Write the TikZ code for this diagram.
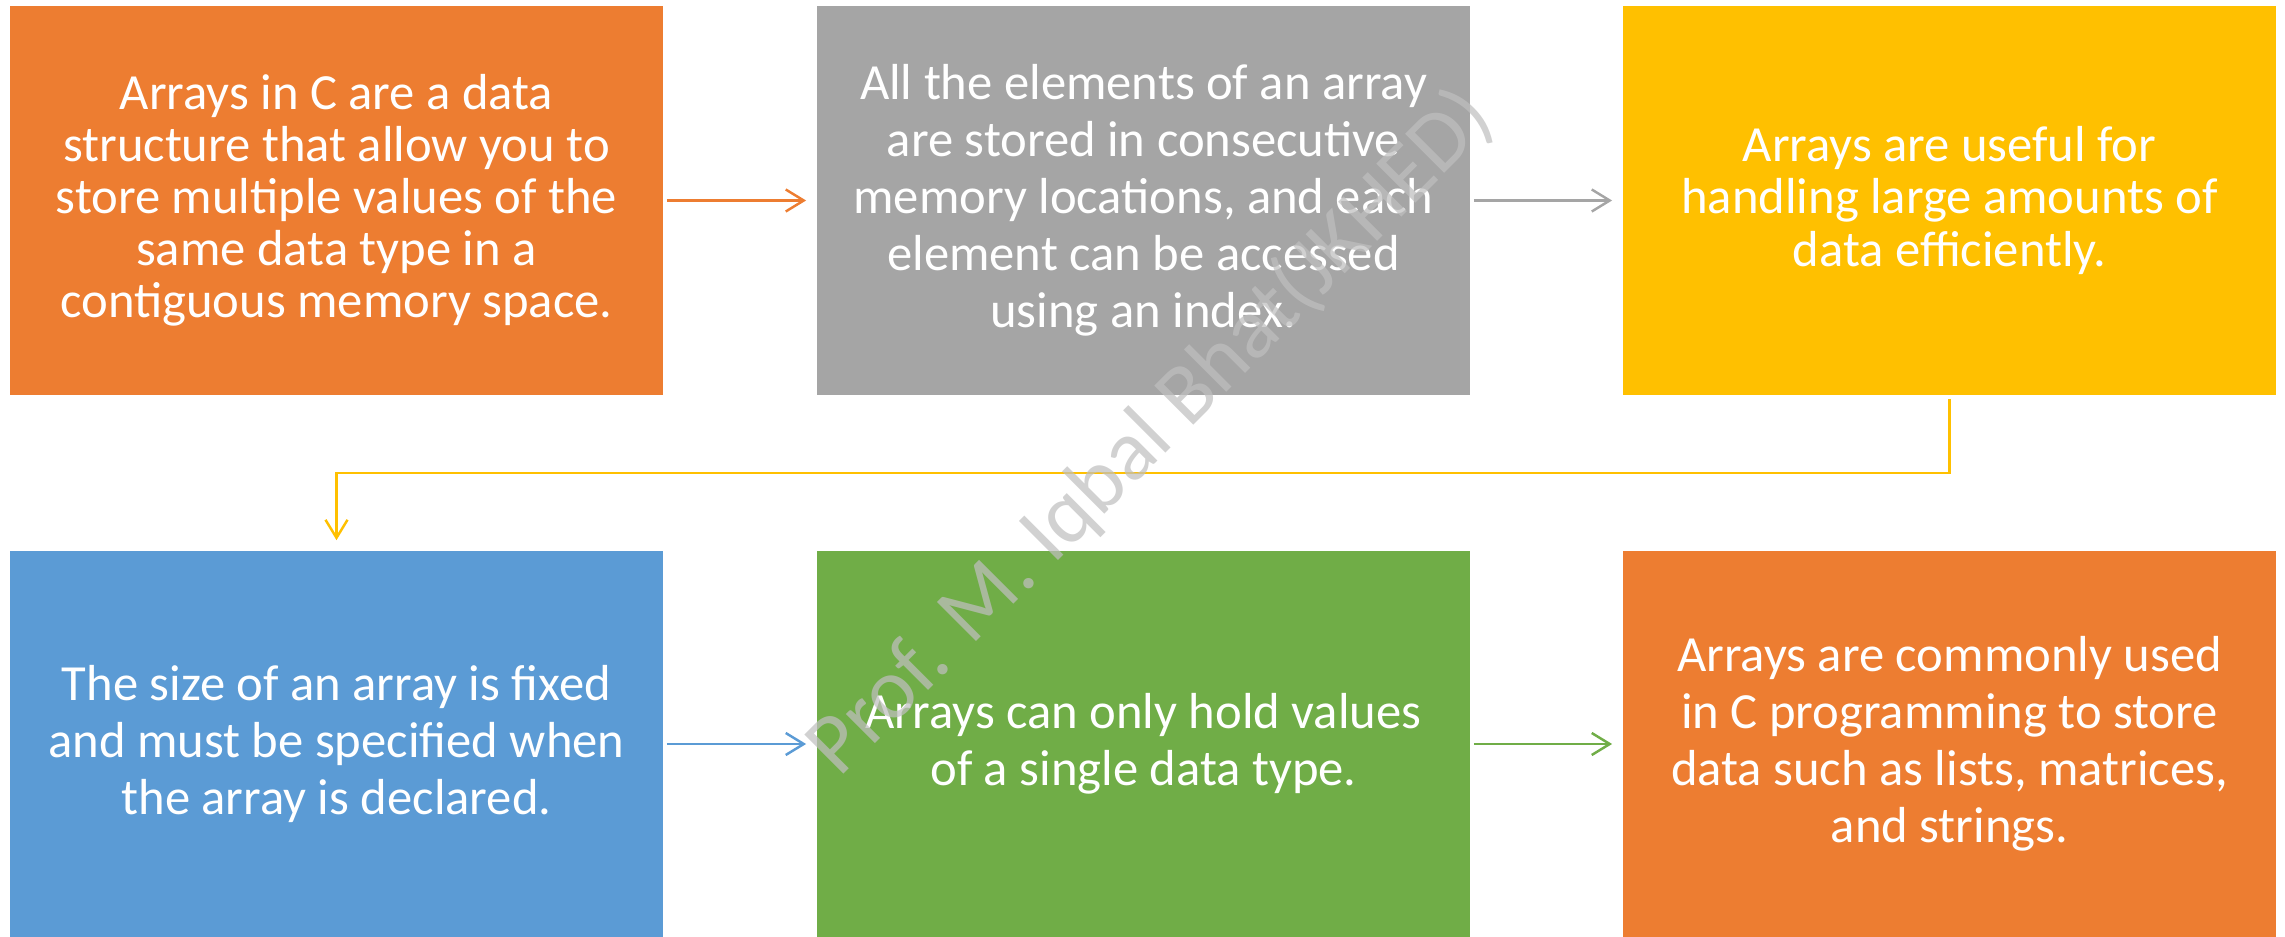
\documentclass[tikz,border=0pt]{standalone}
\usepackage{fontspec}
\setmainfont{Carlito}
\usetikzlibrary{arrows.meta}
\definecolor{cOrange}{HTML}{ED7D31}
\definecolor{cGray}{HTML}{A5A5A5}
\definecolor{cYellow}{HTML}{FFC000}
\definecolor{cBlue}{HTML}{5B9BD5}
\definecolor{cGreen}{HTML}{70AD47}
\definecolor{cMark}{HTML}{BFBFBF}
\tikzset{
  box/.style={rectangle, inner sep=0pt, minimum width=6.53cm, text=white,
    align=center, font=\fontsize{14.4pt}{14.8pt}\selectfont},
  loose/.style={font=\fontsize{14.4pt}{16.2pt}\selectfont},
  conn/.style={line width=0.7pt, -{Straight Barb[length=0.18cm,width=0.22cm,line width=0.7pt]},
    shorten <=0.03cm, shorten >=0.10cm},
}
\begin{document}
\begin{tikzpicture}[x=0.01cm,y=-0.01cm]
\useasboundingbox (0,0) rectangle (2285,937);
\node[box, fill=cOrange, minimum height=3.89cm] (b1) at (336.5,200.5)
  {Arrays in C are a data\\structure that allow you to\\store multiple values of the\\same data type in a\\contiguous memory space.};
\node[box, loose, fill=cGray, minimum height=3.89cm] (b2) at (1143.5,200.5)
  {All the elements of an array\\are stored in consecutive\\memory locations, and each\\element can be accessed\\using an index.};
\node[box, fill=cYellow, minimum height=3.89cm] (b3) at (1949.5,200.5)
  {Arrays are useful for\\handling large amounts of\\data efficiently.};
\node[box, loose, fill=cBlue, minimum height=3.86cm] (b4) at (336.5,744)
  {The size of an array is fixed\\and must be specified when\\the array is declared.};
\node[box, loose, fill=cGreen, minimum height=3.86cm] (b5) at (1143.5,744)
  {Arrays can only hold values\\of a single data type.};
\node[box, loose, fill=cOrange, minimum height=3.86cm] (b6) at (1949.5,744)
  {Arrays are commonly used\\in C programming to store\\data such as lists, matrices,\\and strings.};
\draw[conn, cOrange] (b1.east) -- (b2.west);
\draw[conn, cGray] (b2.east) -- (b3.west);
\draw[conn, cYellow] (b3.south) -- ++(0,77) -| (b4.north);
\draw[conn, cBlue] (b4.east) -- (b5.west);
\draw[conn, cGreen] (b5.east) -- (b6.west);
\node[rotate=45, text=cMark, opacity=0.72, font=\fontsize{24.5pt}{28pt}\selectfont, inner sep=0pt] (wm) at (1151,433)
  {Prof. M. Iqbal Bhat(JKHED)};
\end{tikzpicture}
\end{document}
